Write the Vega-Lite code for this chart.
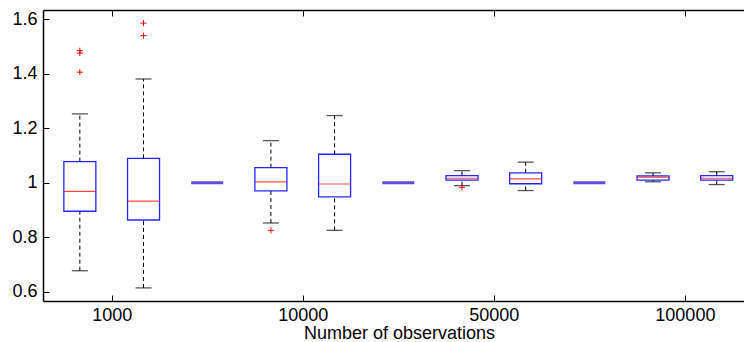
{
  "$schema": "https://vega.github.io/schema/vega-lite/v6.json",
  "width": 701,
  "height": 291,
  "autosize": "none",
  "padding": {"left": 43, "top": 10, "right": 0, "bottom": 41},
  "background": "white",
  "config": {
    "view": {"stroke": null},
    "font": "Liberation Sans",
    "axis": {
      "grid": false,
      "domainColor": "#000000",
      "domainWidth": 1.5,
      "tickColor": "#000000",
      "tickWidth": 1,
      "tickSize": 6,
      "labelFont": "Liberation Sans",
      "labelFontSize": 18,
      "labelColor": "#000000",
      "titleFont": "Liberation Sans",
      "titleFontSize": 18,
      "titleFontWeight": "normal",
      "titleColor": "#000000"
    }
  },
  "resolve": {"axis": {"x": "independent", "y": "independent"}},
  "datasets": {
    "boxes": [
      {"pos": 1, "lower": 0.677, "q1": 0.895, "median": 0.968, "q3": 1.077, "upper": 1.252},
      {"pos": 2, "lower": 0.614, "q1": 0.863, "median": 0.932, "q3": 1.089, "upper": 1.380},
      {"pos": 4, "lower": 0.852, "q1": 0.970, "median": 1.003, "q3": 1.055, "upper": 1.154},
      {"pos": 5, "lower": 0.825, "q1": 0.948, "median": 0.995, "q3": 1.104, "upper": 1.246},
      {"pos": 7, "lower": 0.989, "q1": 1.009, "median": 1.016, "q3": 1.026, "upper": 1.044},
      {"pos": 8, "lower": 0.971, "q1": 0.996, "median": 1.014, "q3": 1.036, "upper": 1.075},
      {"pos": 10, "lower": 1.003, "q1": 1.009, "median": 1.020, "q3": 1.025, "upper": 1.036},
      {"pos": 11, "lower": 0.993, "q1": 1.009, "median": 1.016, "q3": 1.026, "upper": 1.040}
    ],
    "outliers": [
      {"pos": 1, "value": 1.484},
      {"pos": 1, "value": 1.475},
      {"pos": 1, "value": 1.405},
      {"pos": 2, "value": 1.585},
      {"pos": 2, "value": 1.539},
      {"pos": 4, "value": 0.825},
      {"pos": 7, "value": 0.983}
    ],
    "flat": [
      {"pos": 3, "value": 1},
      {"pos": 6, "value": 1},
      {"pos": 9, "value": 1}
    ]
  },
  "layer": [
    {
      "data": {"name": "boxes"},
      "mark": {"type": "rule", "color": "#000000", "strokeDash": [4, 3], "strokeWidth": 1},
      "encoding": {
        "x": {
          "field": "pos", "type": "quantitative",
          "scale": {"domain": [0.5, 11.35], "nice": false, "zero": false},
          "axis": {
            "orient": "bottom",
            "offset": -6,
            "domain": false,
            "values": [1.5, 4.5, 7.5, 10.5],
            "labelExpr": "datum.value == 1.5 ? '1000' : datum.value == 4.5 ? '10000' : datum.value == 7.5 ? '50000' : '100000'",
            "labelPadding": 5,
            "title": "Number of observations",
            "titleX": 356,
            "titleY": 43,
            "titleBaseline": "alphabetic",
            "titleAlign": "center",
            "titleAnchor": null
          }
        },
        "y": {
          "field": "q3", "type": "quantitative",
          "scale": {"domain": [0.566, 1.633], "nice": false, "zero": false},
          "axis": {
            "orient": "left",
            "offset": -6,
            "domain": false,
            "values": [0.6, 0.8, 1, 1.2, 1.4, 1.6],
            "format": "~g",
            "labelPadding": 6,
            "title": null
          }
        },
        "y2": {"field": "upper"}
      }
    },
    {
      "data": {"name": "boxes"},
      "mark": {"type": "rule", "color": "#000000", "strokeDash": [4, 3], "strokeWidth": 1},
      "encoding": {
        "x": {
          "field": "pos", "type": "quantitative",
          "axis": {"orient": "bottom", "domain": true, "ticks": false, "labels": false, "title": null}
        },
        "y": {
          "field": "lower", "type": "quantitative",
          "axis": {"orient": "left", "domain": true, "ticks": false, "labels": false, "title": null}
        },
        "y2": {"field": "q1"}
      }
    },
    {
      "data": {"name": "boxes"},
      "mark": {"type": "tick", "orient": "horizontal", "size": 16, "thickness": 1.3, "color": "#111111"},
      "encoding": {
        "x": {
          "field": "pos", "type": "quantitative",
          "axis": {"orient": "top", "offset": -6, "domain": false, "values": [1.5, 4.5, 7.5, 10.5], "labels": false, "title": null}
        },
        "y": {"field": "upper", "type": "quantitative", "axis": null}
      }
    },
    {
      "data": {"name": "boxes"},
      "mark": {"type": "tick", "orient": "horizontal", "size": 16, "thickness": 1.3, "color": "#111111"},
      "encoding": {
        "x": {
          "field": "pos", "type": "quantitative",
          "axis": {"orient": "top", "domain": true, "ticks": false, "labels": false, "title": null}
        },
        "y": {"field": "lower", "type": "quantitative", "axis": null}
      }
    },
    {
      "data": {"name": "boxes"},
      "mark": {"type": "bar", "width": 32, "fill": "transparent", "stroke": "#0000ff", "strokeWidth": 1.3, "strokeOpacity": 0.85},
      "encoding": {
        "x": {"field": "pos", "type": "quantitative", "axis": null},
        "y": {"field": "q1", "type": "quantitative", "axis": null},
        "y2": {"field": "q3"}
      }
    },
    {
      "data": {"name": "boxes"},
      "mark": {"type": "tick", "orient": "horizontal", "size": 32, "thickness": 1.2, "color": "#ff0000"},
      "encoding": {
        "x": {"field": "pos", "type": "quantitative", "axis": null},
        "y": {"field": "median", "type": "quantitative", "axis": null}
      }
    },
    {
      "data": {"name": "flat"},
      "mark": {"type": "tick", "orient": "horizontal", "size": 32, "thickness": 3, "color": "#2200cc"},
      "encoding": {
        "x": {"field": "pos", "type": "quantitative", "axis": null},
        "y": {"field": "value", "type": "quantitative", "axis": null}
      }
    },
    {
      "mark": {"type": "rule", "color": "#2525ff", "strokeWidth": 2},
      "encoding": {"y": {"datum": 1, "type": "quantitative", "axis": null}}
    },
    {
      "data": {"name": "outliers"},
      "mark": {"type": "point", "shape": "M-1,0H1M0,-1V1", "size": 36, "filled": false, "stroke": "#ff0000", "strokeWidth": 1, "opacity": 1},
      "encoding": {
        "x": {"field": "pos", "type": "quantitative", "axis": null},
        "y": {"field": "value", "type": "quantitative", "axis": null}
      }
    }
  ]
}
